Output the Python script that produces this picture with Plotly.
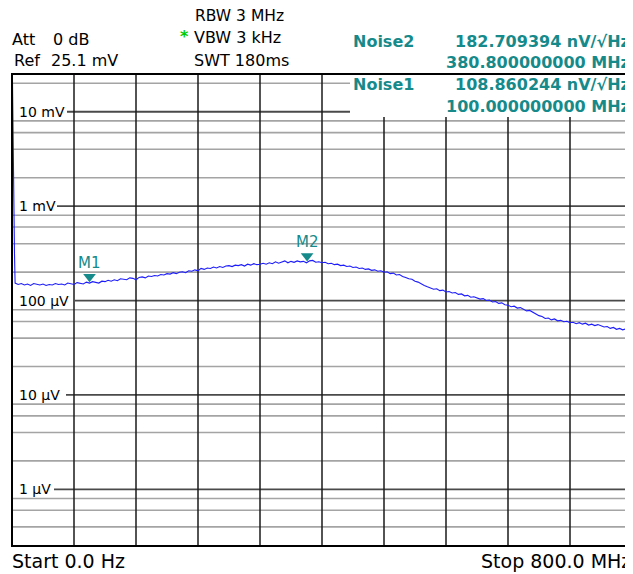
import numpy as np
import plotly.graph_objects as go

# ---------------- data ----------------
ref_level_uV = 25100.0          # Ref 25.1 mV (top of screen)
span_db = 100.0                 # 10 dB / div, 10 divisions
start_mhz, stop_mhz = 0.0, 800.0

# local-oscillator spike at 0 Hz
spike_freqs = [0.0, 1.6, 3.2]
spike_levels = [95.0, 66.0, 50.0]                  # dBuV

# sweep, 4 MHz steps from 4 MHz to 800 MHz
sweep_freqs = [4.0 * k for k in range(1, 201)]
sweep_levels = [                                   # dBuV
    43.7, 43.4, 43.6, 43.3, 43.5, 43.2, 43.6, 43.4, 43.3, 43.5,
    43.2, 43.4, 43.3, 43.6, 43.4, 43.5, 43.3, 43.7, 43.5, 43.4,
    43.8, 43.6, 43.5, 43.9, 43.7, 44.0, 43.8, 43.7, 44.1, 44.0,
    44.3, 44.1, 44.4, 44.2, 44.6, 44.5, 44.4, 44.8, 44.7, 44.4,
    44.9, 45.0, 44.8, 45.2, 45.1, 45.3, 45.2, 45.5, 45.4, 45.7,
    45.6, 45.9, 45.7, 46.0, 46.1, 45.9, 46.3, 46.2, 46.5, 46.3,
    46.8, 46.6, 46.9, 46.8, 47.1, 46.9, 47.2, 47.0, 47.3, 47.4,
    47.2, 47.5, 47.4, 47.6, 47.3, 47.7, 47.5, 47.8, 47.6, 47.7,
    47.9, 47.7, 48.0, 47.8, 48.2, 47.9, 48.1, 48.4, 48.0, 48.3,
    48.1, 48.4, 48.2, 48.3, 48.0, 48.4, 48.5, 48.1, 48.2, 48.0,
    48.1, 47.8, 47.9, 47.6, 47.7, 47.4, 47.5, 47.2, 47.3, 47.0,
    47.1, 46.8, 46.9, 46.6, 46.7, 46.4, 46.5, 46.2, 46.3, 46.0,
    46.1, 45.7, 45.8, 45.4, 45.5, 45.1, 44.9, 44.6, 44.5, 44.1,
    43.9, 43.5, 43.2, 42.9, 42.7, 42.4, 42.5, 42.1, 42.2, 41.8,
    41.9, 41.6, 41.7, 41.3, 41.4, 41.0, 41.1, 40.7, 40.8, 40.5,
    40.3, 40.4, 40.0, 40.1, 39.7, 39.8, 39.4, 39.5, 39.1, 39.0,
    38.7, 38.8, 38.4, 38.5, 38.1, 37.8, 37.9, 37.5, 37.2, 36.8,
    36.6, 36.2, 36.3, 35.9, 36.1, 35.7, 35.8, 35.5, 35.6, 35.3,
    35.4, 35.1, 35.3, 35.0, 35.2, 34.8, 35.0, 34.7, 34.9, 34.6,
    34.4, 34.5, 34.1, 34.3, 33.9, 34.1, 33.8, 34.0, 33.7, 33.9,
]

marker_names = ["M1", "M2"]
marker_freqs = [100.0, 380.8]

decade_uV = [10000, 1000, 100, 10, 1]
decade_labels = ["10 mV", "1 mV", "100 µV", "10 µV", "1 µV"]
minor_mult = [2, 4, 6, 8]

settings_left = [("Att", "0 dB"), ("Ref", "25.1 mV")]
settings_mid = ["RBW 3 MHz", "VBW 3 kHz", "SWT 180ms"]
noise_rows = [("Noise2", "182.709394 nV/√Hz", "380.800000000 MHz"),
              ("Noise1", "108.860244 nV/√Hz", "100.000000000 MHz")]
start_label = "Start 0.0 Hz"
stop_label = "Stop 800.0 MHz"

# ---------------- layout geometry / styles ----------------
OFF = 8                       # default page (body) margin of the html page
W, H = 633 - OFF, 574 - OFF
L, R, T, B = 12 - OFF, 1, 74 - OFF, 28
PW, PH = W - L - R, H - T - B
FONT = "DejaVu Sans"
TEAL = "#168a8a"
TRACE = "#1c1cff"

def px_x(x):
    """page pixel x -> paper coordinate"""
    return (x - OFF - L) / PW

def px_y(y):
    """page pixel y -> paper coordinate"""
    return (H - B - (y - OFF)) / PH

ref_db = 20 * np.log10(ref_level_uV)
y_lo, y_hi = ref_db - span_db, ref_db

freqs = spike_freqs + sweep_freqs
levels = spike_levels + sweep_levels

fig = go.Figure()

shapes = []
# minor (gray) log grid lines
for n in range(-1, 5):
    for m in minor_mult:
        v = m * 10.0 ** n
        d = 20 * np.log10(v)
        if y_lo < d < y_hi:
            shapes.append(dict(type="line", xref="paper", yref="y", x0=0, x1=1, y0=d, y1=d,
                               line=dict(color="#a4a4a4", width=1.6), layer="below"))
# decade (dark) lines, starting right after their label
label_end_px = [67, 57, 75, 66, 54]
for v, xe in zip(decade_uV, label_end_px):
    d = 20 * np.log10(v)
    shapes.append(dict(type="line", xref="paper", yref="y", x0=px_x(xe), x1=1, y0=d, y1=d,
                       line=dict(color="#4a4a4a", width=1.8), layer="below"))
# vertical division lines
for k in range(1, 10):
    f = start_mhz + k * (stop_mhz - start_mhz) / 10
    shapes.append(dict(type="line", xref="x", yref="paper", x0=f, x1=f, y0=0, y1=1,
                       line=dict(color="#1a1a1a", width=1.5), layer="below"))
# white marker-info box in the top right corner of the grid
shapes.append(dict(type="rect", xref="paper", yref="paper", x0=px_x(350), x1=1,
                   y0=px_y(117), y1=1, fillcolor="white", line=dict(width=0), layer="below"))
# frame
shapes.append(dict(type="rect", xref="paper", yref="paper", x0=0, x1=1, y0=0, y1=1,
                   line=dict(color="black", width=2), layer="above"))

fig.add_trace(go.Scatter(x=freqs, y=levels, mode="lines",
                         line=dict(color=TRACE, width=1.1), hoverinfo="skip", showlegend=False))

marker_levels = np.interp(marker_freqs, freqs, levels)
tri_size = 11
tri_offset_db = (tri_size / 2) * 2 / np.sqrt(3) * span_db / PH
fig.add_trace(go.Scatter(x=marker_freqs, y=marker_levels + tri_offset_db, mode="markers",
                         marker=dict(symbol="triangle-down", size=tri_size, color=TEAL,
                                     line=dict(width=0)),
                         hoverinfo="skip", showlegend=False, cliponaxis=False))

ann = []
for name, f, lv in zip(marker_names, marker_freqs, marker_levels):
    ann.append(dict(x=f, y=lv, xref="x", yref="y", text=name, showarrow=False,
                    yshift=20, font=dict(family=FONT, size=15, color=TEAL)))

# y labels
for v, lab in zip(decade_uV, decade_labels):
    ann.append(dict(x=px_x(17), y=20 * np.log10(v), xref="paper", yref="y", text=lab,
                    xanchor="left", yanchor="middle", showarrow=False,
                    font=dict(family=FONT, size=14, color="black")))

def txt(x, y, s, anchor="left", size=16, color="black", bold=False):
    ann.append(dict(x=px_x(x), y=px_y(y), xref="paper", yref="paper",
                    text=(f"<b>{s}</b>" if bold else s),
                    xanchor=anchor, yanchor="middle", showarrow=False,
                    font=dict(family=FONT, size=size, color=color)))

# settings
txt(10, 39, settings_left[0][0]); txt(51, 39, settings_left[0][1])
txt(12, 61, settings_left[1][0]); txt(49, 61, settings_left[1][1])
txt(193, 16, settings_mid[0], size=15.5); txt(192, 38, settings_mid[1]); txt(192, 61, settings_mid[2])
txt(178, 36, "*", size=16, color="#00cc00", bold=True)
# noise markers readout
txt(351, 42, noise_rows[0][0], size=16, color=TEAL, bold=True)
txt(632, 42, noise_rows[0][1], anchor="right", size=16, color=TEAL, bold=True)
txt(632, 62, noise_rows[0][2], anchor="right", size=16, color=TEAL, bold=True)
txt(351, 84, noise_rows[1][0], size=16, color=TEAL, bold=True)
txt(632, 84, noise_rows[1][1], anchor="right", size=16, color=TEAL, bold=True)
txt(632, 106, noise_rows[1][2], anchor="right", size=16, color=TEAL, bold=True)
# start/stop
txt(10, 561, start_label, size=19)
txt(633, 561, stop_label, anchor="right", size=19)

fig.update_layout(
    width=W, height=H,
    margin=dict(l=L, r=R, t=T, b=B, pad=0),
    paper_bgcolor="white", plot_bgcolor="white",
    xaxis=dict(range=[start_mhz, stop_mhz], visible=False, fixedrange=True),
    yaxis=dict(range=[y_lo, y_hi], visible=False, fixedrange=True),
    shapes=shapes, annotations=ann, showlegend=False,
)

fig.write_html("out.html")
